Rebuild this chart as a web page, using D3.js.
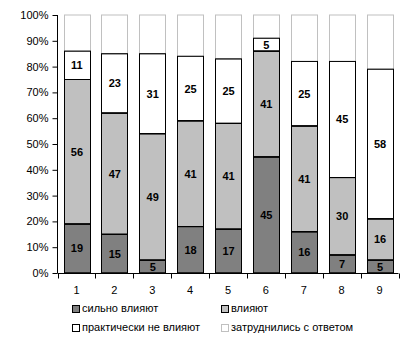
<!DOCTYPE html>
<html><head><meta charset="utf-8">
<script src="https://cdn.jsdelivr.net/npm/d3@7/dist/d3.min.js"></script>
<style>body{margin:0;background:#fff}svg{display:block}text{font-family:"Liberation Sans",Arial,sans-serif}</style>
</head><body>
<svg id="c" width="415" height="341"></svg>
<script>
const categories = ["1","2","3","4","5","6","7","8","9"];
const strong = [19,15,5,18,17,45,16,7,5];
const influence = [56,47,49,41,41,41,41,30,16];
const notInfluence = [11,23,31,25,25,5,25,45,58];
const hardToSay = [14,15,15,16,17,9,18,18,21];
const seriesNames = ["сильно влияют","влияют","практически не влияют","затруднились с ответом"];
const yTicks = [0,10,20,30,40,50,60,70,80,90,100];

const fills = ["#808080","#c0c0c0","#ffffff","#ffffff"];
const strokes = ["#000","#000","#000","#c0c0c0"];
const showLabels = [true,true,true,false];

const svg = d3.select("#c");
const x = d3.scaleBand().domain(categories).range([57.5,398.5]).paddingInner(0.32).paddingOuter(0.16);
const y = d3.scaleLinear().domain([0,100]).range([273,15]);

const rows = categories.map((c,i)=>({cat:c, s0:strong[i], s1:influence[i], s2:notInfluence[i], s3:hardToSay[i]}));
const stack = d3.stack().keys(["s0","s1","s2","s3"]);
const layers = stack(rows);

layers.forEach((layer,li)=>{
  const g = svg.append("g");
  g.selectAll("rect").data(layer).join("rect")
    .attr("x", d=>Math.round(x(d.data.cat))+0.5)
    .attr("width", Math.round(x.bandwidth()))
    .attr("y", d=>y(d[1]))
    .attr("height", d=>y(d[0])-y(d[1]))
    .attr("fill", fills[li]).attr("stroke", strokes[li]).attr("stroke-width",1);
});
layers.slice(0,3).forEach((layer,li)=>{
  svg.append("g").selectAll("rect").data(layer).join("rect")
    .attr("x", d=>Math.round(x(d.data.cat))+0.5)
    .attr("width", Math.round(x.bandwidth()))
    .attr("y", d=>y(d[1]))
    .attr("height", d=>y(d[0])-y(d[1]))
    .attr("fill","none").attr("stroke","#000").attr("stroke-width",1);
});
layers.forEach((layer,li)=>{
  if(!showLabels[li]) return;
  svg.append("g").selectAll("text").data(layer).join("text")
    .attr("x", d=>x(d.data.cat)+x.bandwidth()/2+0.5)
    .attr("y", d=>(y(d[0])+y(d[1]))/2+4)
    .attr("text-anchor","middle")
    .attr("font-size",11).attr("font-weight","bold")
    .text(d=>d[1]-d[0]);
});

// y axis
const yAxis = svg.append("g").attr("transform","translate(57.5,0)")
  .call(d3.axisLeft(y).tickValues(yTicks).tickSize(5).tickPadding(4).tickFormat(d=>d+"%"));
yAxis.select(".domain").attr("stroke","#000").attr("d","M0,15V273");
yAxis.selectAll("text").attr("font-size",11).attr("fill","#000").attr("font-family","Liberation Sans, Arial, sans-serif");

// x axis
const xg = svg.append("g").attr("transform","translate(0,273.5)");
xg.append("line").attr("x1",57.5).attr("x2",398.5).attr("stroke","#000");
const bounds = d3.range(categories.length+1).map(i=>57.5+i*(341/categories.length));
xg.selectAll("line.t").data(bounds).join("line").attr("class","t")
  .attr("x1",d=>Math.round(d)+0.5).attr("x2",d=>Math.round(d)+0.5).attr("y1",0).attr("y2",5).attr("stroke","#000");
xg.selectAll("text").data(categories).join("text")
  .attr("x",d=>x(d)+x.bandwidth()/2).attr("y",20.5).attr("text-anchor","middle")
  .attr("font-size",11).text(d=>d);

// legend
const legPos = [[72,312],[221,312],[72,331],[221,331]];
seriesNames.forEach((n,i)=>{
  const [lx,ly]=legPos[i];
  svg.append("rect").attr("x",lx+0.5).attr("y",ly-6.5).attr("width",7).attr("height",7)
    .attr("fill",fills[i]).attr("stroke",i===3?"#c0c0c0":"#000");
  svg.append("text").attr("x",lx+10).attr("y",ly).attr("font-size",11).text(n);
});
</script>
</body></html>
